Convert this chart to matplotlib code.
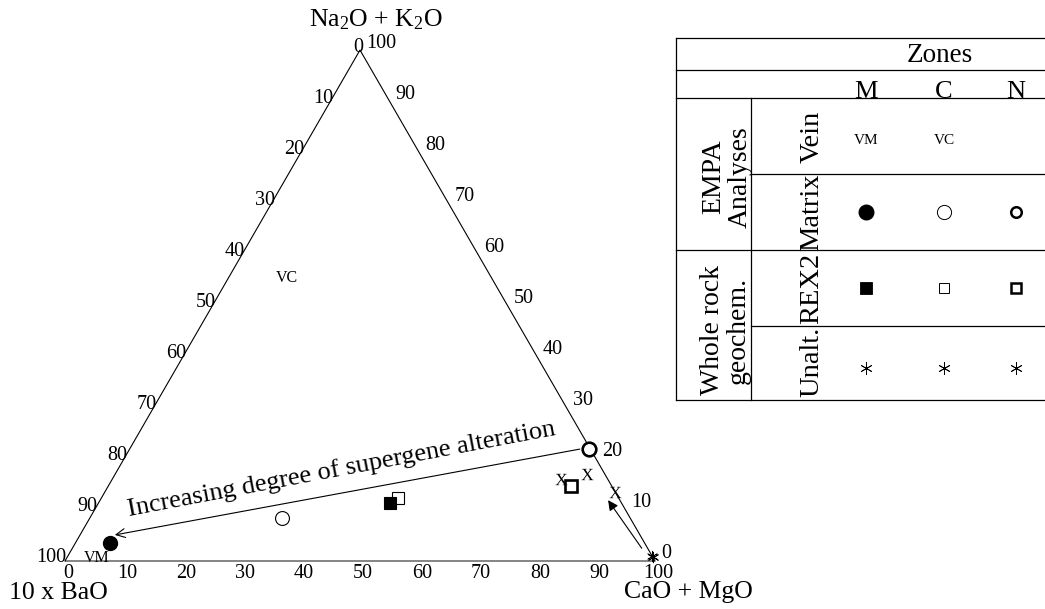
import numpy as np
import matplotlib
matplotlib.use("Agg")
import matplotlib.pyplot as plt

plt.rcParams['font.family'] = ['Liberation Serif', 'DejaVu Serif']
plt.rcParams['mathtext.fontset'] = 'custom'
plt.rcParams['mathtext.rm'] = 'Liberation Serif'
plt.rcParams['mathtext.it'] = 'Liberation Serif:italic'
plt.rcParams['mathtext.bf'] = 'Liberation Serif:bold'
plt.rcParams['mathtext.default'] = 'rm'

# ---------------- data (ternary %, Na2O+K2O and CaO+MgO; 10xBaO = rest) ----
apex_top = 'Na$_2$O + K$_2$O'
apex_left = '10 x BaO'
apex_right = 'CaO + MgO'
tick_values = [0, 10, 20, 30, 40, 50, 60, 70, 80, 90, 100]

zones = ['M', 'C', 'N']
matrix_na = [3.5, 8.4, 21.9]          # EMPA matrix analyses
matrix_camg = [5.9, 32.6, 77.9]
rex2_na = [11.35, 12.3, 14.7]         # whole rock REX2
rex2_camg = [49.4, 50.3, 78.4]
unalt_na = [0.7, 0.8, 0.9]            # unaltered whole rock
unalt_camg = [99.3, 99.2, 99.1]
x_na = [16.0, 17.0, 13.5]             # "X" analyses
x_camg = [76.1, 80.0, 86.5]
vein_labels = ['VM', 'VC']            # EMPA vein analyses
vein_na = [0.6, 55.4]
vein_camg = [5.1, 9.9]
trend_na = [21.9, 5.1]                # supergene trend arrow (start, end)
trend_camg = [76.3, 5.9]
small_na = [2.5, 11.9]                # small arrow (start, end)
small_camg = [96.5, 86.1]
trend_text = 'Increasing degree of supergene alteration'

row_labels = ['Vein', 'Matrix', 'REX2', 'Unalt.']
group_labels = ['EMPA\nAnalyses', 'Whole rock\ngeochem.']


def tern(na, camg):
    na = np.asarray(na, dtype=float) / 100.0
    c = np.asarray(camg, dtype=float) / 100.0
    return c + na / 2.0, na * np.sqrt(3) / 2.0


fig = plt.figure(figsize=(10.45, 6.09), dpi=100)
ax = fig.add_axes([0, 0, 1, 1])
S = 590.0
ax.set_xlim(-65 / S, 980 / S)
ax.set_ylim(-48 / S, 561 / S)
ax.axis('off')

H = np.sqrt(3) / 2
# triangle
ax.plot([0, 1], [0, 0], color='#707070', lw=1.2, zorder=1, solid_capstyle='butt')
ax.plot([0, 0.5, 1], [0, H, 0], color='k', lw=0.8, zorder=2)

# tick labels
fs_tick = 14.5
for v in tick_values:
    bx, by = tern(0, v)
    ax.annotate(str(v), (bx, by), xytext=(3, -12), textcoords='offset pixels',
                ha='center', va='center', fontsize=fs_tick)
    lx, ly = tern(100 - v, 0)
    dx = 1 if v == 100 else 3
    ax.annotate(str(v), (lx, ly), xytext=(dx, 3), textcoords='offset pixels',
                ha='right', va='center', fontsize=fs_tick)
    rx, ry = tern(v, 100 - v)
    ax.annotate(str(v), (rx, ry), xytext=(6, 7), textcoords='offset pixels',
                ha='left', va='center', fontsize=fs_tick)

# apex titles
ax.annotate(apex_top, (0.5, H), xytext=(16, 30), textcoords='offset pixels',
            ha='center', va='center', fontsize=18.5)
ax.annotate(apex_left, (0, 0), xytext=(-7, -32), textcoords='offset pixels',
            ha='center', va='center', fontsize=18.5)
ax.annotate(apex_right, (1, 0), xytext=(33, -31), textcoords='offset pixels',
            ha='center', va='center', fontsize=18.5)

# trend arrow and text
tx, ty = tern(trend_na, trend_camg)
ax.annotate('', xy=(tx[1], ty[1]), xytext=(tx[0], ty[0]),
            arrowprops=dict(arrowstyle='->', lw=0.8, color='k',
                            mutation_scale=16, shrinkA=0, shrinkB=0))
ang = np.degrees(np.arctan2(ty[0] - ty[1], tx[0] - tx[1]))
ax.text((343 - 65) / S, (561 - 475) / S, trend_text, rotation=ang + 0.3,
        rotation_mode='anchor', ha='center', va='baseline', fontsize=19)

sx, sy = tern(small_na, small_camg)
ax.annotate('', xy=(sx[1], sy[1]), xytext=(sx[0], sy[0]),
            arrowprops=dict(arrowstyle='-|>', lw=0.8, color='k',
                            mutation_scale=15, shrinkA=0, shrinkB=0))

# data points
mx, my = tern(matrix_na, matrix_camg)
ax.plot(mx[0], my[0], 'o', ms=10, mfc='k', mec='k', zorder=5)
ax.plot(mx[1], my[1], 'o', ms=10, mfc='white', mec='k', mew=0.8, zorder=5)
ax.plot(mx[2], my[2], 'o', ms=9.8, mfc='white', mec='k', mew=1.9, zorder=5)

qx, qy = tern(rex2_na, rex2_camg)
ax.plot(qx[1], qy[1], 's', ms=8.2, mfc='white', mec='k', mew=0.8, zorder=4)
ax.plot(qx[0], qy[0], 's', ms=9.2, mfc='k', mec='k', mew=0.8, zorder=5)
ax.plot(qx[2], qy[2], 's', ms=9, mfc='white', mec='k', mew=1.9, zorder=5)

ux, uy = tern(unalt_na, unalt_camg)
ax.plot(ux, uy, ls='', marker=(6, 2, 0), ms=8, mec='k', mew=0.5, zorder=5)

xx, xy_ = tern(x_na, x_camg)
ax.plot(xx, xy_, ls='', marker=r'$\mathrm{X}$', ms=8.5, color='k', mew=0, zorder=5)

vx, vy = tern(vein_na, vein_camg)
for lab, x0, y0 in zip(vein_labels, vx, vy):
    ax.text(x0, y0, lab, ha='center', va='center', fontsize=11.5, zorder=3)

# ---------------- table legend (pixel coordinates) ----------------
tb = fig.add_axes([0, 0, 1, 1])
tb.set_xlim(0, 1045)
tb.set_ylim(609, 0)
tb.axis('off')
tb.patch.set_alpha(0)
lk = dict(color='k', lw=0.9)
for yy, x0 in [(38, 676), (70, 676), (98, 676), (174, 751), (250, 676), (326, 751), (400, 676)]:
    tb.plot([x0, 1045], [yy, yy], **lk)
tb.plot([676, 676], [38, 400], **lk)
tb.plot([751, 751], [98, 400], **lk)

tb.text(940, 56, 'Zones', ha='center', va='center', fontsize=19.5)
colx = [866, 944, 1016]
for z, cx in zip(zones, colx):
    tb.text(cx, 98, z, ha='center', va='baseline', fontsize=19)
for lab, cy in zip(row_labels, [137, 212, 288, 362]):
    tb.text(812, cy, lab, rotation=90, ha='center', va='center', fontsize=20.5)
tb.text(727, 177, group_labels[0], rotation=90, ha='center', va='center',
        fontsize=20, linespacing=1.05, multialignment='center')
tb.text(725, 330, group_labels[1], rotation=90, ha='center', va='center',
        fontsize=20, linespacing=1.05, multialignment='center')

for lab, cx in zip(vein_labels, colx[:2]):
    tb.text(cx, 140, lab, ha='center', va='center', fontsize=11)
tb.plot(colx[0], 212, 'o', ms=10.5, mfc='k', mec='k')
tb.plot(colx[1], 212, 'o', ms=10.2, mfc='white', mec='k', mew=0.7)
tb.plot(colx[2], 212, 'o', ms=7.6, mfc='white', mec='k', mew=1.8)
tb.plot(colx[0], 288, 's', ms=9, mfc='k', mec='k', mew=0.6)
tb.plot(colx[1], 288, 's', ms=7.5, mfc='white', mec='k', mew=0.7)
tb.plot(colx[2], 288, 's', ms=7.6, mfc='white', mec='k', mew=1.8)
for cx in colx:
    tb.plot(cx, 368, ls='', marker=(6, 2, 0), ms=9, mec='k', mew=0.6)

fig.savefig('out.png', dpi=100)
